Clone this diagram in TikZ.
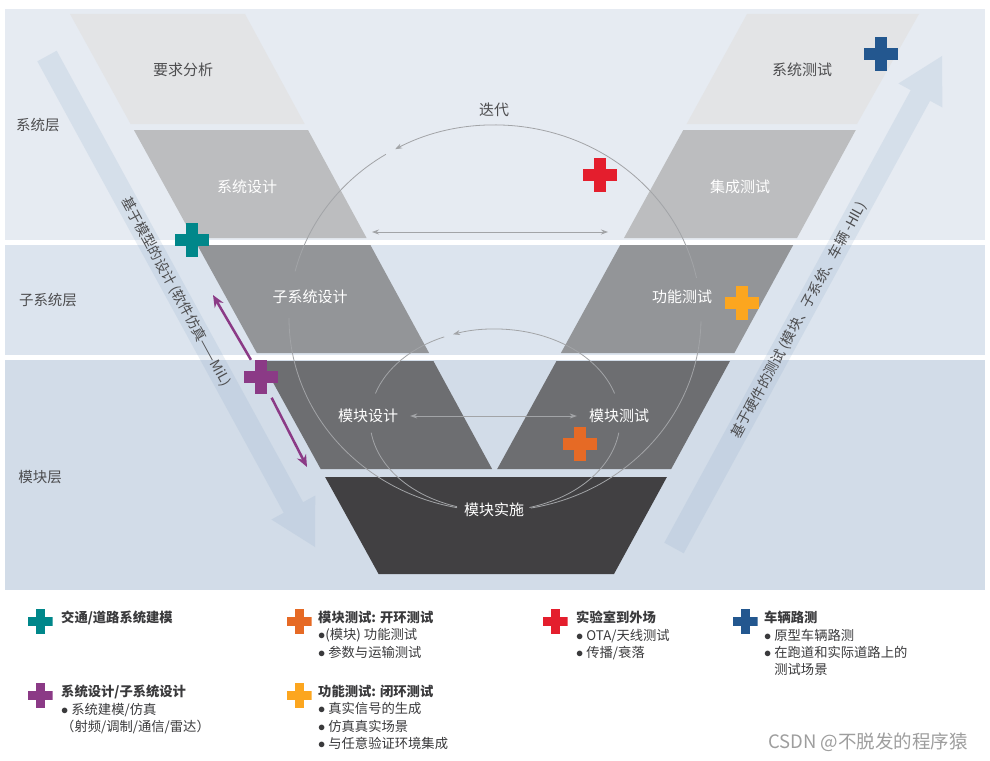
\documentclass[tikz,border=0pt]{standalone}
\usepackage{fontspec}
\setmainfont{Noto Sans CJK SC}
\usetikzlibrary{arrows.meta,positioning,calc}
\definecolor{bandTop}{HTML}{E6EBF2}
\definecolor{bandMid}{HTML}{DCE4EE}
\definecolor{bandLow}{HTML}{D2DCE8}
\definecolor{flowBlue}{HTML}{8CAAC8}
\definecolor{grayA}{HTML}{E3E4E6}
\definecolor{grayB}{HTML}{BCBDBF}
\definecolor{grayC}{HTML}{939598}
\definecolor{grayD}{HTML}{6D6E71}
\definecolor{grayE}{HTML}{414042}
\definecolor{textDark}{HTML}{4D4D4F}
\definecolor{legDark}{HTML}{3A3A3C}
\definecolor{loopGray}{HTML}{A2A4A7}
\definecolor{tealMark}{HTML}{00878A}
\definecolor{purpleMark}{HTML}{8B3A86}
\definecolor{redMark}{HTML}{E41E2D}
\definecolor{blueMark}{HTML}{23578F}
\definecolor{orangeMark}{HTML}{E66A25}
\definecolor{yellowMark}{HTML}{FCA61F}

\begin{document}
\begin{tikzpicture}[
    x=1pt, y=-1pt,
    plus arm/.store in=\plusarm, plus arm=6pt,
    plusmark/.style={
      inner sep=0pt, minimum size=34pt, plus arm=6pt,
      path picture={
        \fill[#1] ([xshift=-\plusarm]path picture bounding box.north) rectangle ([xshift=\plusarm]path picture bounding box.south);
        \fill[#1] ([yshift=-\plusarm]path picture bounding box.west) rectangle ([yshift=\plusarm]path picture bounding box.east);
      }
    },
    smallplus/.style={plusmark=#1, minimum size=25pt, plus arm=4.5pt},
    vlabel/.style={text=white, inner sep=2pt, font=\fontsize{15pt}{17pt}\selectfont},
    vdark/.style={vlabel, text=textDark},
    layer/.style={text=textDark, inner sep=0pt, font=\fontsize{14.5pt}{17pt}\selectfont},
    flowtext/.style={text=textDark, inner sep=0pt, font=\fontsize{14pt}{16pt}\selectfont},
    iterline/.style={draw=loopGray, line width=0.8pt},
    itertip/.style={iterline, -{Stealth[length=7pt, width=5pt]}},
    mixarrow/.style={draw=purpleMark, line width=2.5pt, -{Stealth[length=12pt, width=10pt]}},
    legtext/.style={text=legDark, inner sep=0pt, anchor=north west, align=left,
      font=\fontsize{13.3pt}{17.3pt}\selectfont}
  ]
  \useasboundingbox (0,0) rectangle (990,760);
  \fill[white] (0,0) rectangle (990,760);

  \fill[bandTop] (5,9) rectangle (985,240);
  \fill[bandMid] (5,245) rectangle (985,355);
  \fill[bandLow] (5,360) rectangle (985,590);

  \fill[flowBlue, fill opacity=0.18] (56.7,50.7) -- (303.1,502.2) -- (315.3,495.5) -- (315,547)
    -- (271.4,519.5) -- (283.7,512.8) -- (37.3,61.3) -- cycle;
  \fill[flowBlue, fill opacity=0.18] (664.3,542.7) -- (910.7,90.2) -- (898.4,83.5) -- (942,56)
    -- (942.4,107.5) -- (930.1,100.8) -- (683.7,553.3) -- cycle;
  \node[flowtext, rotate=-61.4] (mil) at (176,292) {基于模型的设计 (软件仿真——MiL)};
  \node[flowtext, rotate=61.4] (hil) at (799,320) {基于硬件的测试 (模块、子系统、车辆 -HIL)};

  \fill[grayA] (70,14) -- (245,14) -- (304.7,124) -- (130.6,124) -- cycle;
  \fill[grayB] (133.9,130) -- (308,130) -- (366.6,238) -- (193.4,238) -- cycle;
  \fill[grayC] (197.3,245) -- (370.4,245) -- (429.1,353) -- (256.8,353) -- cycle;
  \fill[grayD] (261.2,361) -- (433.4,361) -- (492.1,469) -- (320.7,469) -- cycle;
  \fill[grayE] (325.1,477) -- (666.9,477) -- (614,574) -- (378.6,574) -- cycle;
  \fill[grayD] (556.5,361) -- (730,361) -- (671.2,469) -- (497.2,469) -- cycle;
  \fill[grayC] (620.2,245) -- (793.2,245) -- (734.4,353) -- (560.9,353) -- cycle;
  \fill[grayB] (683.3,130) -- (855.8,130) -- (797,238) -- (624,238) -- cycle;
  \fill[grayA] (747,14) -- (919,14) -- (857,124) -- (686.6,124) -- cycle;

  \node[layer] (l1) at (38,125) {系统层};
  \node[layer] (l2) at (48,300) {子系统层};
  \node[layer] (l3) at (40,477) {模块层};

  \node[vdark] (req) at (183,70) {要求分析};
  \node[vlabel] (sysd) at (247,187) {系统设计};
  \node[vlabel] (subd) at (310,297) {子系统设计};
  \node[vlabel] (mdes) at (368,416) {模块设计};
  \node[vlabel] (impl) at (494,510) {模块实施};
  \node[vlabel] (mtest) at (619,416) {模块测试};
  \node[vlabel] (ftest) at (682,297) {功能测试};
  \node[vlabel] (itest) at (740,187) {集成测试};
  \node[vdark] (stest) at (802,70) {系统测试};
  \node[vdark] (iter) at (494,110) {迭代};

  \coordinate (oc) at (495,318);
  \coordinate (ic) at (495,420);
  \draw[iterline] (oc) ++(80:206 and 193) arc[start angle=80, end angle=1, x radius=206, y radius=193];
  \draw[itertip] (oc) ++(-12:206 and 193) arc[start angle=-12, end angle=-119, x radius=206, y radius=193];
  \draw[iterline] (oc) ++(-122:206 and 193) arc[start angle=-122, end angle=-166, x radius=206, y radius=193];
  \draw[iterline] (oc) ++(180:206 and 193) arc[start angle=180, end angle=100.6, x radius=206, y radius=193];
  \draw[iterline] (ic) ++(74:125 and 91) arc[start angle=74, end angle=8, x radius=125, y radius=91];
  \draw[itertip] (ic) ++(-17:125 and 91) arc[start angle=-17, end angle=-109.6, x radius=125, y radius=91];
  \draw[iterline] (ic) ++(-114:125 and 91) arc[start angle=-114, end angle=-163, x radius=125, y radius=91];
  \draw[iterline] (ic) ++(172:125 and 91) arc[start angle=172, end angle=107.7, x radius=125, y radius=91];

  \coordinate (hl) at (372,232);
  \coordinate (hr) at (608,232);
  \draw[iterline, {Stealth[length=7pt, width=5pt]}-{Stealth[length=7pt, width=5pt]}] (hl) -- (hr);
  \draw[iterline, {Stealth[length=7pt, width=5pt]}-{Stealth[length=7pt, width=5pt]}, shorten <=10pt, shorten >=10pt] (mdes) -- (mtest);

  \node[plusmark=tealMark] (tcross) at (192,240) {};
  \node[plusmark=purpleMark] (pcross) at (261,377) {};
  \node[plusmark=redMark] (rcross) at (600,175) {};
  \node[plusmark=blueMark] (bcross) at (881,54) {};
  \node[plusmark=yellowMark] (ycross) at (742,303) {};
  \node[plusmark=orangeMark] (ocross) at (580,444) {};

  \coordinate (pup) at (213,295);
  \coordinate (pdn) at (307,467);
  \draw[mixarrow] (pcross) -- (pup);
  \draw[mixarrow, shorten <=4pt] (pcross) -- (pdn);

  \node[smallplus=tealMark] (lg1) at (40,621) {};
  \node[smallplus=purpleMark] (lg2) at (40,695) {};
  \node[smallplus=orangeMark] (lg3) at (299,621) {};
  \node[smallplus=yellowMark] (lg4) at (299,695) {};
  \node[smallplus=redMark] (lg5) at (555,621) {};
  \node[smallplus=blueMark] (lg6) at (745,621) {};

  \node[legtext] (lt1) at (61,611) {\textbf{交通/道路系统建模}};
  \node[legtext] (lt2) at (61,685) {\textbf{系统设计/子系统设计}\\$\bullet$\ 系统建模/仿真\\（射频/调制/通信/雷达）};
  \node[legtext] (lt3) at (318,611) {\textbf{模块测试: 开环测试}\\$\bullet$(模块) 功能测试\\$\bullet$\ 参数与运输测试};
  \node[legtext] (lt4) at (318,685) {\textbf{功能测试: 闭环测试}\\$\bullet$\ 真实信号的生成\\$\bullet$\ 仿真真实场景\\$\bullet$\ 与任意验证环境集成};
  \node[legtext] (lt5) at (576,611) {\textbf{实验室到外场}\\$\bullet$\ OTA/天线测试\\$\bullet$\ 传播/衰落};
  \node[legtext] (lt6) at (764,611) {\textbf{车辆路测}\\$\bullet$\ 原型车辆路测\\$\bullet$\ 在跑道和实际道路上的\\\phantom{$\bullet$\ }测试场景};

  \node[text=black!38, inner sep=0pt, font=\fontsize{18.5pt}{20pt}\selectfont] (mark) at (868,742) {CSDN @不脱发的程序猿};
\end{tikzpicture}
\end{document}
